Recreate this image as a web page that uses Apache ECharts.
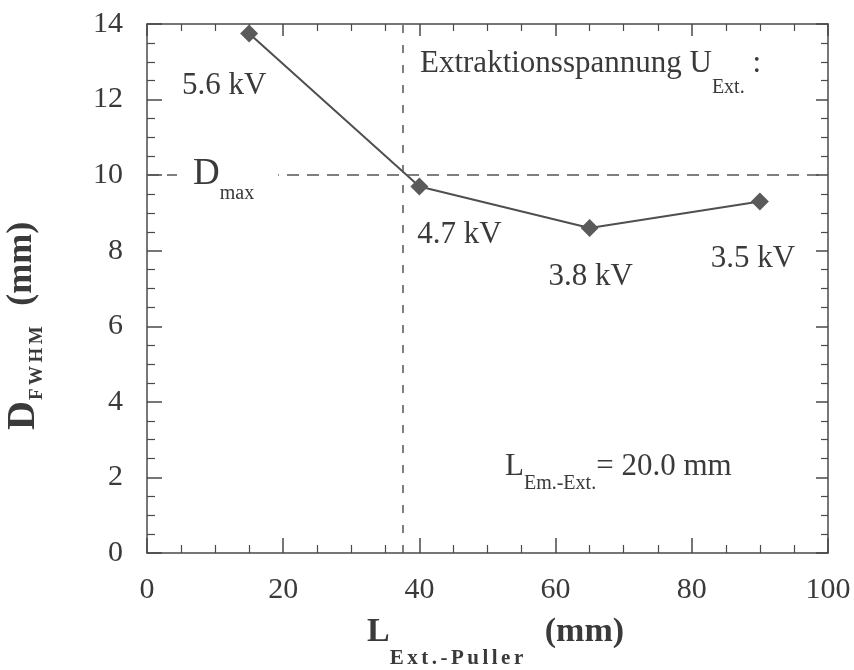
<!DOCTYPE html>
<html>
<head>
<meta charset="utf-8">
<script src="https://cdn.jsdelivr.net/npm/echarts@6/dist/echarts.min.js"></script>
<style>html,body{margin:0;background:#fff}#chart{width:854px;height:670px}</style>
</head>
<body>
<div id="chart"></div>
<script>
const xValues = [15, 40, 65, 90]
const yValues = [13.75, 9.7, 8.6, 9.3]
const voltLabels = ['5.6 kV', '4.7 kV', '3.8 kV', '3.5 kV']
const xRange = [0, 100]
const yRange = [0, 14]
const dMax = 10
const xCut = 37.5

const serif = '"Liberation Serif", "Times New Roman", serif'
const ink = '#3a3a3a'
const frame = '#4a4a4a'

// voltage labels sit below / beside their diamonds
const labelOffsets = [[-25, 52], [40, 48], [1, 49], [-7, 57]]

const chart = echarts.init(document.getElementById('chart'))

const axisBase = (long, short) => ({
  type: 'value',
  axisLine: { show: true, onZero: false, lineStyle: { color: frame, width: 1.5 } },
  axisTick: { show: true, inside: true, length: long, lineStyle: { color: frame, width: 1.5 } },
  minorTick: { show: true, splitNumber: 4, length: short, lineStyle: { color: frame, width: 1.2 } },
  splitLine: { show: false },
  minorSplitLine: { show: false },
})

const tickFont = { fontFamily: serif, fontSize: 30, color: ink }

// spaced-out subscript, one token per letter
const spaced = (s, style) => s.split('').map(c => `{${style}|${c}}`).join('')

chart.setOption({
  animation: false,
  grid: { left: 147, right: 26, top: 24, bottom: 117 },
  xAxis: [{
    ...axisBase(15, 8),
    position: 'bottom',
    min: xRange[0], max: xRange[1], interval: 20,
    axisLabel: { ...tickFont, margin: 22 },
  }, {
    ...axisBase(12, 7),
    position: 'top',
    min: xRange[0], max: xRange[1], interval: 20,
    axisLabel: { show: false },
  }],
  yAxis: [{
    ...axisBase(15, 8),
    position: 'left',
    min: yRange[0], max: yRange[1], interval: 2,
    axisLabel: { ...tickFont, margin: 24 },
  }, {
    ...axisBase(12, 7),
    position: 'right',
    min: yRange[0], max: yRange[1], interval: 2,
    axisLabel: { show: false },
  }],
  series: [{
    type: 'line',
    data: xValues.map((x, i) => ({ value: [x, yValues[i]], label: { offset: labelOffsets[i] } })),
    symbol: 'diamond',
    symbolSize: 18,
    itemStyle: { color: '#5a5a5a' },
    lineStyle: { color: '#4f4f4f', width: 2 },
    label: {
      show: true,
      position: 'inside',
      formatter: p => voltLabels[p.dataIndex],
      fontFamily: serif,
      fontSize: 31,
      color: ink,
      textBorderWidth: 0,
    },
    markLine: {
      silent: true,
      symbol: ['none', 'none'],
      label: { show: false },
      data: [
        { xAxis: xCut, lineStyle: { color: '#555', width: 1.5, type: [8, 12] } },
        { yAxis: dMax, lineStyle: { color: '#555', width: 1.5, type: [12, 8] } },
      ],
    },
  }],
  graphic: [{
    type: 'text', x: 420, y: 48, z: 100,
    style: {
      text: '{a|Extraktionsspannung U}{s|Ext.}{a| :}',
      fill: ink, align: 'left', verticalAlign: 'top',
      rich: {
        a: { fontFamily: serif, fontSize: 31, lineHeight: 32, verticalAlign: 'top', fill: ink },
        s: { fontFamily: serif, fontSize: 20, lineHeight: 20, padding: [30, 0, 0, 0], verticalAlign: 'top', fill: ink },
      },
    },
  }, {
    type: 'text', x: 505, y: 451, z: 100,
    style: {
      text: '{a|L}{s|Em.-Ext.}{a|= 20.0 mm}',
      fill: ink, align: 'left', verticalAlign: 'top',
      rich: {
        a: { fontFamily: serif, fontSize: 31, lineHeight: 32, verticalAlign: 'top', fill: ink },
        s: { fontFamily: serif, fontSize: 20, lineHeight: 20, padding: [23, 0, 0, 0], verticalAlign: 'top', fill: ink },
      },
    },
  }, {
    type: 'text', x: 177, y: 156, z: 100,
    style: {
      text: '{d|D}{s|max}',
      fill: ink, align: 'left', verticalAlign: 'top',
      backgroundColor: '#fff',
      padding: [0, 24, 0, 16],
      rich: {
        d: { fontFamily: serif, fontSize: 37, lineHeight: 38, verticalAlign: 'top', fill: ink },
        s: { fontFamily: serif, fontSize: 20, lineHeight: 20, padding: [28, 0, 0, 0], verticalAlign: 'top', fill: ink },
      },
    },
  }, {
    // x axis title
    type: 'text', x: 367, y: 615, z: 100,
    style: {
      text: '{L|L}' + spaced('Ext.-Puller', 's') + '{m|(mm)}',
      fill: ink, align: 'left', verticalAlign: 'top',
      rich: {
        L: { fontFamily: serif, fontWeight: 'bold', fontSize: 34, lineHeight: 36, verticalAlign: 'top', fill: ink },
        s: { fontFamily: serif, fontWeight: 'bold', fontSize: 21, lineHeight: 22, padding: [33, 3.5, 0, 0], verticalAlign: 'top', fill: ink },
        m: { fontFamily: serif, fontWeight: 'bold', fontSize: 34, lineHeight: 36, padding: [0, 0, 0, 18], verticalAlign: 'top', fill: ink },
      },
    },
  }, {
    // y axis title, reads bottom to top
    type: 'text', x: 4, y: 430, rotation: Math.PI / 2, z: 100,
    style: {
      text: '{D|D}' + spaced('FWHM', 's') + '{m|(mm)}',
      fill: ink, align: 'left', verticalAlign: 'top',
      rich: {
        D: { fontFamily: serif, fontWeight: 'bold', fontSize: 40, lineHeight: 40, verticalAlign: 'top', fill: ink },
        s: { fontFamily: serif, fontWeight: 'bold', fontSize: 19, lineHeight: 20, padding: [24, 2.5, 0, 1], verticalAlign: 'top', fill: ink },
        m: { fontFamily: serif, fontWeight: 'bold', fontSize: 36, lineHeight: 40, padding: [0, 0, 0, 18], verticalAlign: 'top', fill: ink },
      },
    },
  }],
})
</script>
</body>
</html>
